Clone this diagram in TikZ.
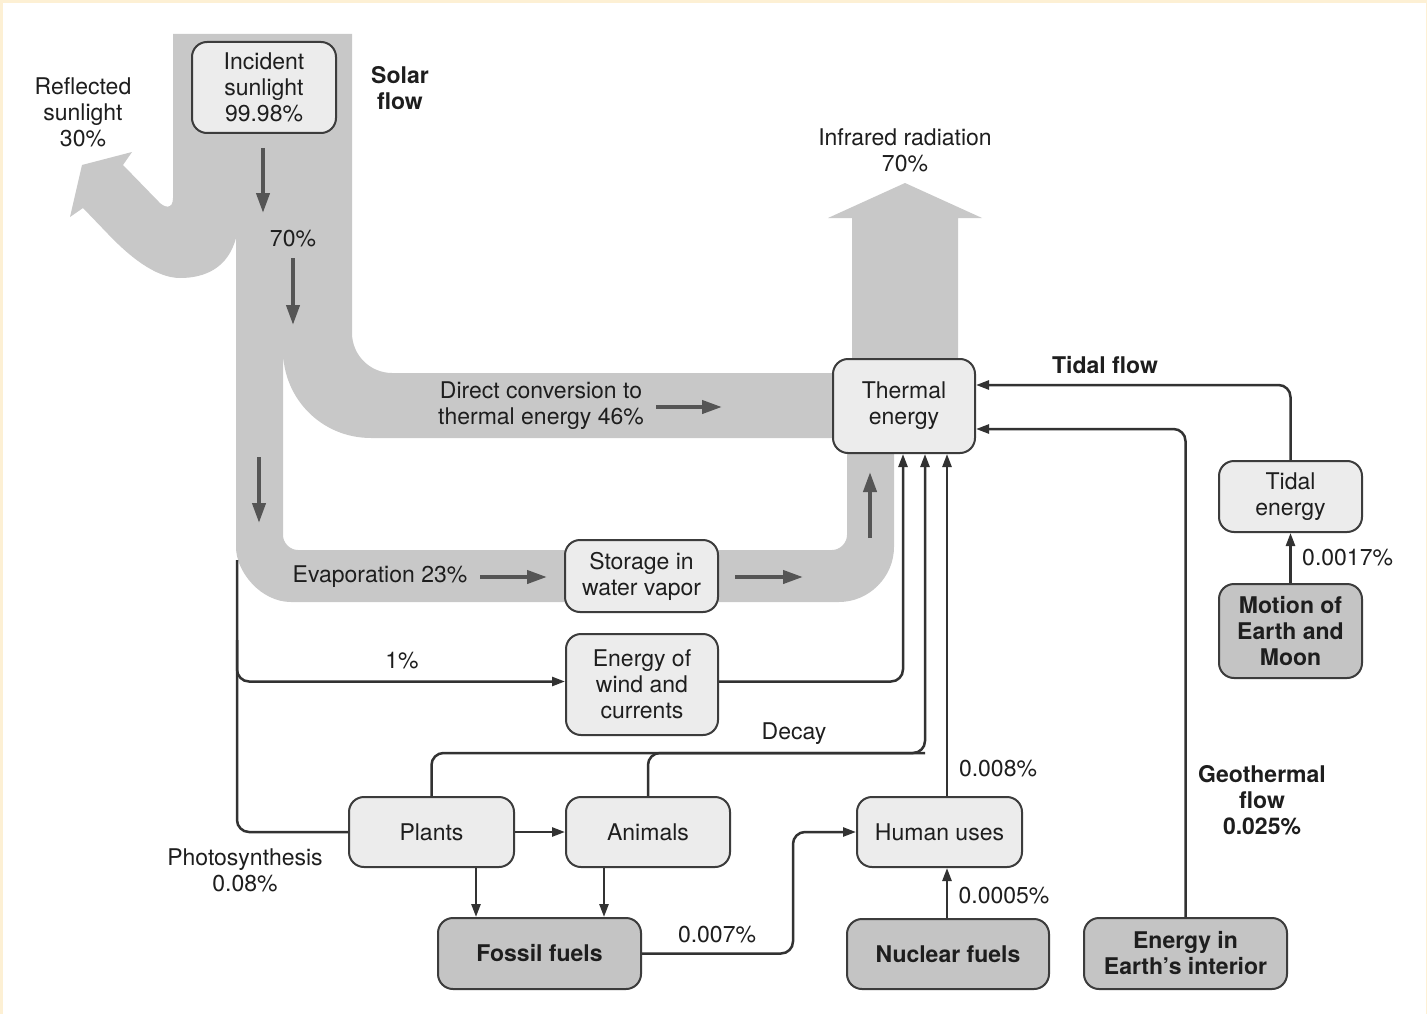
\documentclass[tikz,border=0pt]{standalone}
\usepackage{fontspec}
\setmainfont{TeX Gyre Heros}
\usetikzlibrary{arrows.meta}
\definecolor{bandgray}{RGB}{200,200,200}
\definecolor{lightfill}{RGB}{236,236,236}
\definecolor{darkfill}{RGB}{196,196,196}
\definecolor{boxline}{RGB}{60,60,60}
\definecolor{connc}{RGB}{50,50,50}
\definecolor{darrc}{RGB}{85,85,85}
\definecolor{txt}{RGB}{30,30,30}
\definecolor{cream}{RGB}{253,240,212}
\begin{document}
\begin{tikzpicture}[x=1pt,y=-1pt,
  every node/.style={font=\fontsize{23}{26}\selectfont, text=txt, align=center, inner sep=0pt},
  lbox/.style={draw=boxline, line width=2pt, fill=lightfill, rounded corners=15pt},
  dbox/.style={draw=boxline, line width=2pt, fill=darkfill, rounded corners=15pt, font=\fontsize{23}{26}\selectfont\bfseries},
  blabel/.style={font=\fontsize{23}{26}\selectfont\bfseries},
  conn/.style={draw=connc, line width=2.5pt, rounded corners=12pt},
  arr/.style={-{Triangle[length=13pt,width=9pt]}},
  darr/.style={draw=darrc, line width=4pt, -{Triangle[length=20pt,width=13pt]}}
]
\useasboundingbox (0,0) rectangle (1427,1014);
\fill[cream] (0,0) rectangle (1427,1014);
\fill[white] (3,3) rectangle (1426,1014);

% solar band
\fill[bandgray] (173,34) -- (352,34) -- (352,333) .. controls (352,355) and (370,373) .. (392,373)
  -- (850,373) -- (850,438) -- (371,438) .. controls (322,438) and (283,399) .. (283,350)
  -- (283,535) .. controls (283,543) and (290,550) .. (298,550) -- (832,550)
  .. controls (840,550) and (847,543) .. (847,535) -- (847,445) -- (894,445) -- (894,547)
  .. controls (894,577) and (869,602) .. (839,602) -- (291,602)
  .. controls (261,602) and (236,572) .. (236,547) -- (236,238)
  .. controls (228,268) and (205,278) .. (180,278) .. controls (155,278) and (128,255) .. (108,234)
  -- (83,208) -- (70,217) -- (82,165) -- (132,152) -- (123,165) -- (158,201)
  .. controls (164,208) and (173,210) .. (173,198) -- cycle;
% infrared arrow
\fill[bandgray] (852,430) -- (852,218) -- (828,218) -- (905,183) -- (982,218) -- (958,218) -- (958,430) -- cycle;

% dark arrows in band
\coordinate (a1s) at (263,148); \coordinate (a1e) at (263,213);
\coordinate (a2s) at (293,258); \coordinate (a2e) at (293,325);
\coordinate (a3s) at (259,457); \coordinate (a3e) at (259,523);
\coordinate (a4s) at (656,407); \coordinate (a4e) at (722,407);
\coordinate (a5s) at (480,577); \coordinate (a5e) at (547,577);
\coordinate (a6s) at (735,577); \coordinate (a6e) at (803,577);
\coordinate (a7s) at (870,538); \coordinate (a7e) at (870,472);
\foreach \i in {1,...,7} {\draw[darr] (a\i s) -- (a\i e);}

% boxes
\node[lbox, minimum width=144pt, minimum height=91pt] (inc) at (264,87.5) {Incident\\sunlight\\99.98\%};
\node[lbox, minimum width=142pt, minimum height=94pt] (therm) at (904,406) {Thermal\\energy};
\node[lbox, minimum width=153pt, minimum height=72pt] (store) at (641.5,576) {Storage in\\water vapor};
\node[lbox, minimum width=152pt, minimum height=101pt] (wind) at (642,684.5) {Energy of\\wind and\\currents};
\node[lbox, minimum width=165pt, minimum height=70pt] (plants) at (431.5,832) {Plants};
\node[lbox, minimum width=164pt, minimum height=70pt] (animals) at (648,832) {Animals};
\node[lbox, minimum width=165pt, minimum height=70pt] (human) at (939.5,832) {Human uses};
\node[lbox, minimum width=143pt, minimum height=71pt] (tidal) at (1290.5,496.5) {Tidal\\energy};
\node[dbox, minimum width=143pt, minimum height=94pt] (motion) at (1290.5,631) {Motion of\\Earth and\\Moon};
\node[dbox, minimum width=203pt, minimum height=71pt] (fossil) at (539.5,953.5) {Fossil fuels};
\node[dbox, minimum width=202pt, minimum height=70pt] (nuclear) at (948,954) {Nuclear fuels};
\node[dbox, minimum width=203pt, minimum height=71pt] (earth) at (1185.5,953.5) {Energy in\\Earth’s interior};

% labels
\node (lrefl) at (83,112) {Reflected\\sunlight\\30\%};
\node[blabel] (lsolar) at (400,88) {Solar\\flow};
\node (lir) at (905,150) {Infrared radiation\\70\%};
\node (l70) at (293,239) {70\%};
\node (ldirect) at (541,406) {Direct conversion to\\thermal energy 46\%};
\node (levap) at (380,577) {Evaporation 23\%};
\node[blabel] (ltidal) at (1105,365) {Tidal flow};
\node[anchor=west] (l17) at (1302,558) {0.0017\%};
\node[blabel] (lgeo) at (1262,800) {Geothermal\\flow\\0.025\%};
\node (l1) at (402,661) {1\%};
\node (ldecay) at (794,734) {Decay};
\node (l008) at (998,769) {0.008\%};
\node (l007) at (717,935) {0.007\%};
\node (l0005) at (1004,896) {0.0005\%};
\node (lphoto) at (245,870) {Photosynthesis\\0.08\%};

% connectors
\coordinate (ps) at (237,560);
\coordinate (w1) at (237,640);
\coordinate (dk) at (925,753);
\coordinate (fh) at (793,832);
\draw[conn] (ps) |- (plants.west);
\draw[conn, arr] (w1) |- ([yshift=3pt]wind.west);
\draw[conn, arr] ([yshift=3pt]wind.east) -| ([xshift=-1pt]therm.south);
\draw[conn, arr] (plants.north) |- (dk) -- ([xshift=21pt]therm.south);
\draw[conn] (animals.north) |- (dk);
\draw[conn, arr] ([xshift=7.5pt]human.north) -- ([xshift=43pt]therm.south);
\draw[conn, arr] (plants.east) -- (animals.west);
\draw[conn, arr] ([xshift=44.5pt]plants.south) -- ([xshift=44.5pt]plants.south |- fossil.north);
\draw[conn, arr] ([xshift=-44pt]animals.south) -- ([xshift=-44pt]animals.south |- fossil.north);
\draw[conn, arr] (fossil.east) -| (fh) -- (human.west);
\draw[conn, arr] ([xshift=-1pt]nuclear.north) -- ([xshift=-1pt]nuclear.north |- human.south);
\draw[conn, arr] (motion.north) -- (tidal.south);
\draw[conn, arr] (tidal.north) |- ([yshift=21pt]therm.east);
\draw[conn, arr] (earth.north) |- ([yshift=-23pt]therm.east);
\end{tikzpicture}
\end{document}
